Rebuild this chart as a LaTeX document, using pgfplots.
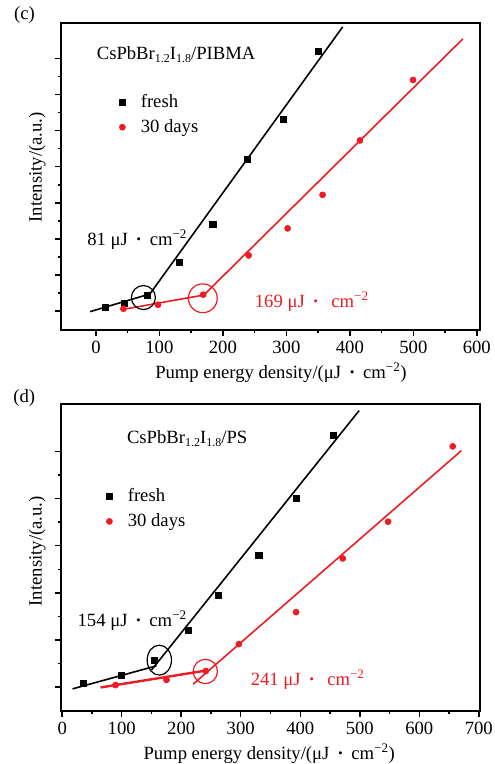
\documentclass[border=0pt]{standalone}
\usepackage{fontspec}
\setmainfont{Liberation Serif}
\usepackage{pgfplots}
\pgfplotsset{compat=1.18}
\definecolor{myred}{RGB}{237,28,36}

\newcommand{\fs}{\fontsize{14}{16}\selectfont}
\newcommand{\sub}[1]{\raisebox{-0.35ex}{\fontsize{9}{10}\selectfont #1}}
\newcommand{\dotsep}{\hspace{0.42em}\textbf{·}\hspace{0.42em}}
\newcommand{\lgap}{\hspace*{9.5pt}}

\pgfplotsset{
  panel/.style={
    scale only axis, width=314.25pt, height=230.25pt,
    anchor=south west, clip=false,
    axis line style={line width=1.5pt},
    tick align=outside, xtick pos=bottom, ytick pos=left,
    major tick length=4.5pt, minor tick length=2.5pt,
    major tick style={black, line width=1.1pt},
    minor tick style={black, line width=1.1pt},
    minor x tick num=1, minor y tick num=1,
    yticklabels={},
    /pgf/number format/assume math mode=true,
    tick label style={font=\fs},
    label style={font=\fs},
    xlabel={Pump energy density/(μJ\dotsep cm\textsuperscript{−2})},
    ylabel={Intensity/(a.u.)},
    legend style={draw=none, fill=none, font=\fs, row sep=3.5pt},
    legend cell align=left,
  },
  fresh/.style={black, only marks, mark=square*, mark size=2.3pt},
  aged/.style={myred, only marks, mark=*, mark size=2.3pt},
}

\begin{document}
\begin{tikzpicture}
\useasboundingbox (0,0) rectangle (370.5pt,573pt);

\node[anchor=west, font=\fs] at (7pt,561.75pt) {(c)};
\node[anchor=west, font=\fs] at (6.5pt,274.3pt) {(d)};

% ---- panel (c)
\begin{axis}[panel, at={(45.75pt,325.5pt)},
  xmin=-55, xmax=605, ymin=-0.53, ymax=7.99,
  xtick={0,100,...,600}, ytick={0,1,...,7},
  xlabel style={at={(axis description cs:0.525,-0.14)}, anchor=center},
  ylabel style={at={(axis description cs:-0.057,0.53)}, anchor=center},
  legend style={at={(axis description cs:0.129,0.785)}, anchor=north west},
]
\addplot[black, line width=1.2pt, forget plot] coordinates {(-9,-0.02) (85,0.47)};
\addplot[black, line width=1.2pt, forget plot] coordinates {(85,0.47) (388.6,7.88)};
\addplot[myred, line width=1.2pt, forget plot] coordinates {(39,0.03) (170,0.44)};
\addplot[myred, line width=1.2pt, forget plot] coordinates {(170,0.44) (578,7.55)};
\addplot[fresh] coordinates {
  (14.6,0.10) (44.5,0.21) (81,0.44) (131.8,1.34) (184,2.40)
  (239,4.21) (295.5,5.31) (350,7.21)
};
\addlegendentry{\lgap fresh}
\addplot[aged] coordinates {
  (43.4,0.06) (97.8,0.17) (169,0.45) (240.6,1.54) (302,2.29)
  (357,3.22) (415.8,4.73) (499.5,6.41)
};
\addlegendentry{\lgap 30 days}
\addplot[black, only marks, mark=o, mark size=9pt, line width=0.9pt, forget plot]
  coordinates {(74.8,0.37)};
\addplot[myred, only marks, mark=o, mark size=10.8pt, line width=0.9pt, forget plot]
  coordinates {(168.4,0.35)};
\node[anchor=west, font=\fs] at (axis cs:-6,7.11)
  {CsPbBr\sub{1.2}I\sub{1.8}/PIBMA};
\node[anchor=west, font=\fs] at (axis cs:-21,1.99) {81 μJ\dotsep cm\textsuperscript{−2}};
\node[anchor=west, font=\fs, text=myred] at (axis cs:243,0.26) {169 μJ\dotsep\ cm\textsuperscript{−2}};
\end{axis}

% ---- panel (d)
\begin{axis}[panel, at={(45.75pt,39.75pt)},
  xmin=-2, xmax=702, ymin=-0.51, ymax=6.01,
  xtick={0,100,...,700}, ytick={0,1,...,5},
  xlabel style={at={(axis description cs:0.497,-0.14)}, anchor=center},
  ylabel style={at={(axis description cs:-0.057,0.52)}, anchor=center},
  legend style={at={(axis description cs:0.098,0.742)}, anchor=north west},
]
\addplot[black, line width=1.2pt, forget plot] coordinates {(17.4,-0.04) (158.5,0.45)};
\addplot[black, line width=1.2pt, forget plot] coordinates {(150,0.36) (498.9,5.87)};
\addplot[myred, line width=1.8pt, forget plot] coordinates {(64.4,-0.01) (242.4,0.35)};
\addplot[myred, line width=1.2pt, forget plot] coordinates {(220,0.06) (670.8,5.02)};
\addplot[fresh] coordinates {
  (35.3,0.085) (99.7,0.24) (154.5,0.57) (212.2,1.20) (262.6,1.95)
  (330.3,2.80) (393,4.01) (455.2,5.35)
};
\addlegendentry{\lgap fresh}
\addplot[aged] coordinates {
  (89.6,0.04) (175.3,0.15) (241.3,0.34) (296.8,0.91) (393,1.59)
  (471.4,2.73) (547.6,3.51) (656.2,5.11)
};
\addlegendentry{\lgap 30 days}
\addplot[black, only marks, mark=o, mark size=11.25pt, line width=0.9pt, forget plot,
  mark options={xscale=0.81}] coordinates {(163.2,0.57)};
\addplot[myred, only marks, mark=o, mark size=9.1pt, line width=0.9pt, forget plot]
  coordinates {(240.5,0.33)};
\node[anchor=west, font=\fs] at (axis cs:101,5.27)
  {CsPbBr\sub{1.2}I\sub{1.8}/PS};
\node[anchor=west, font=\fs] at (axis cs:18,1.41) {154 μJ\dotsep cm\textsuperscript{−2}};
\node[anchor=west, font=\fs, text=myred] at (axis cs:309,0.15) {241 μJ\dotsep\ cm\textsuperscript{−2}};
\end{axis}
\end{tikzpicture}
\end{document}
